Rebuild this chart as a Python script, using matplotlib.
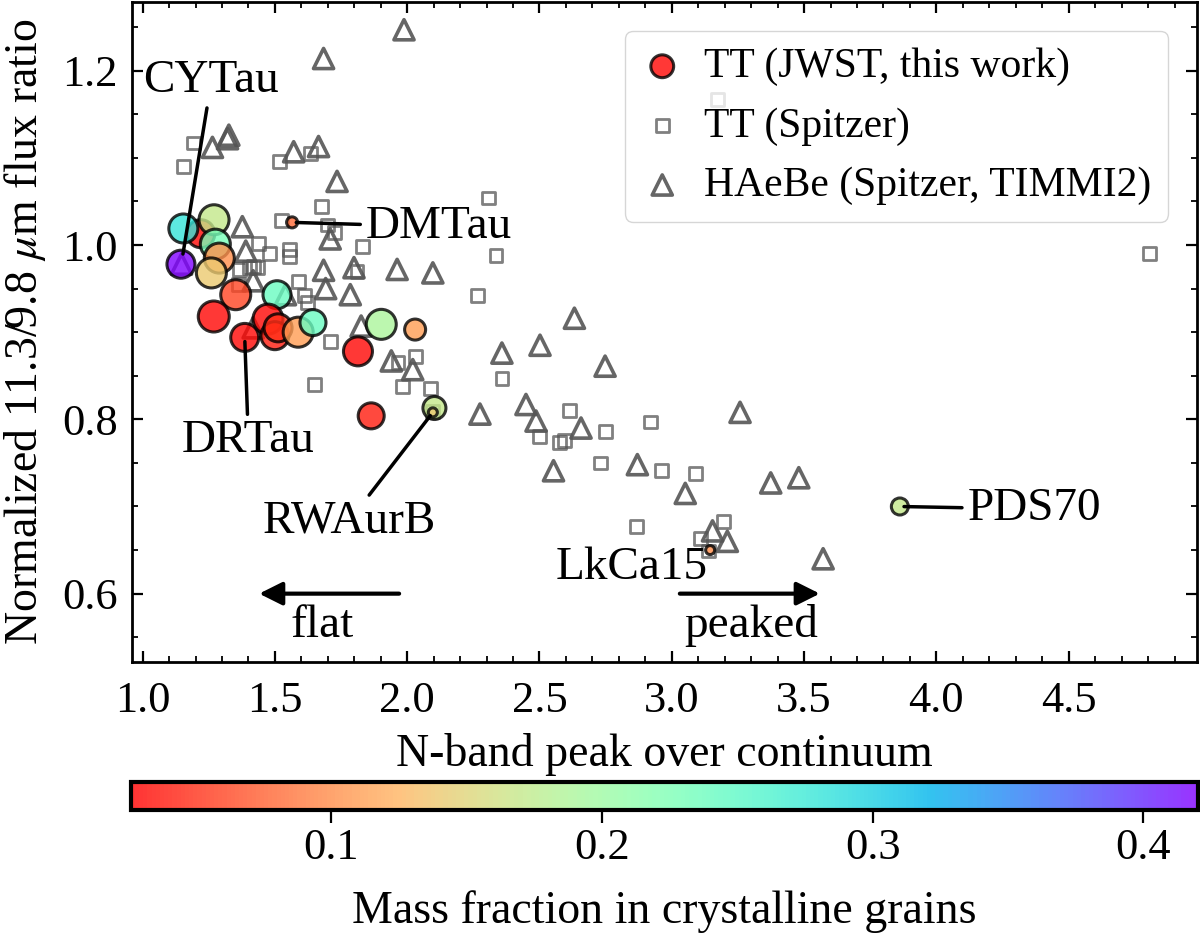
import numpy as np
import matplotlib
matplotlib.use("Agg")
import matplotlib.pyplot as plt
from matplotlib.ticker import MultipleLocator

plt.rcParams['font.family'] = 'serif'
plt.rcParams['font.serif'] = ['Liberation Serif', 'DejaVu Serif']
plt.rcParams['mathtext.fontset'] = 'stix'

# JWST T Tauri sample (this work)
jwst_x = [1.22, 1.154, 1.145, 1.27, 1.275, 1.29, 1.26, 1.352, 1.508, 1.269, 1.386,
          1.474, 1.50, 1.512, 1.588, 1.644, 1.814, 1.902, 2.03, 1.864, 2.103,
          2.097, 1.565, 3.145, 3.862]
jwst_y = [1.013, 1.019, 0.978, 1.029, 1.001, 0.985, 0.968, 0.943, 0.943, 0.918, 0.894,
          0.915, 0.896, 0.905, 0.900, 0.911, 0.878, 0.909, 0.903, 0.804, 0.813,
          0.808, 1.026, 0.650, 0.700]
jwst_frac = [0.03, 0.28, 0.42, 0.17, 0.23, 0.10, 0.14, 0.06, 0.24, 0.03, 0.03,
             0.03, 0.04, 0.05, 0.11, 0.24, 0.03, 0.19, 0.11, 0.04, 0.17,
             0.14, 0.08, 0.10, 0.17]
jwst_diam = [28, 29, 28, 30, 30, 30, 30, 30, 28, 31, 28,
             30, 28, 28, 30, 26, 29, 30, 21, 26, 23,
             9, 11, 9, 17]

# T Tauri (Spitzer)
tt_x = [1.191, 1.154, 1.516, 1.634, 1.675, 1.525, 1.70, 1.726, 1.437, 1.48, 1.556,
        1.556, 1.418, 1.367, 1.405, 1.434, 1.361, 1.588, 1.613, 1.623, 1.830, 2.307,
        2.336, 1.81, 2.267, 1.711, 1.65, 1.965, 2.03, 1.981, 2.087, 2.358, 2.613,
        2.921, 2.50, 2.575, 2.594, 2.751, 2.732, 2.962, 3.091, 2.867, 3.195, 3.109,
        3.14, 2.097, 4.804, 3.172]
tt_y = [1.117, 1.090, 1.096, 1.105, 1.044, 1.028, 1.023, 1.014, 1.002, 0.990, 0.995,
        0.987, 0.975, 0.972, 0.974, 0.974, 0.955, 0.958, 0.942, 0.934, 0.998, 1.054,
        0.988, 0.970, 0.942, 0.889, 0.840, 0.865, 0.872, 0.838, 0.835, 0.847, 0.810,
        0.797, 0.780, 0.773, 0.776, 0.786, 0.750, 0.741, 0.738, 0.677, 0.683, 0.663,
        0.649, 0.809, 0.990, 1.167]

# Herbig Ae/Be (Spitzer, TIMMI2)
hae_x = [1.988, 1.684, 1.571, 1.665, 1.735, 1.709, 1.684, 1.799, 1.962, 2.097, 1.692,
         1.785, 2.632, 1.826, 2.358, 2.502, 2.748, 1.94, 2.021, 2.275, 2.449, 2.487,
         2.657, 2.553, 2.87, 1.264, 1.321, 1.326, 1.377, 1.39, 1.418, 1.147, 1.54,
         1.418, 3.051, 3.258, 3.374, 3.48, 3.154, 3.21, 3.572]
hae_y = [1.247, 1.214, 1.107, 1.113, 1.073, 1.007, 0.971, 0.974, 0.972, 0.968, 0.950,
         0.943, 0.916, 0.907, 0.876, 0.885, 0.861, 0.867, 0.857, 0.806, 0.817, 0.798,
         0.790, 0.741, 0.748, 1.112, 1.122, 1.126, 1.021, 0.993, 0.959, 0.978, 0.943,
         0.905, 0.715, 0.808, 0.727, 0.733, 0.672, 0.660, 0.640]

# labelled sources: name, point, text position, connector line
src_names = ['CYTau', 'DMTau', 'DRTau', 'RWAurB', 'LkCa15', 'PDS70']
src_xy = [(1.15, 0.985), (1.565, 1.026), (1.386, 0.894), (2.097, 0.808), (3.145, 0.650), (3.862, 0.700)]
src_text = [(1.26, 1.188), (2.12, 1.021), (1.40, 0.775), (1.78, 0.683), (2.85, 0.630), (4.37, 0.697)]
src_line = [True, True, True, True, False, True]

fig = plt.figure(figsize=(12, 9.35), dpi=100)
ax = fig.add_axes([0.11, 0.292, 0.8875, 0.706])
cax = fig.add_axes([0.109, 0.1337, 0.889, 0.030])

ax.scatter(tt_x, tt_y, marker='s', s=85, facecolors='none', edgecolors='#555555',
           linewidths=2, alpha=0.75, label='TT (Spitzer)', zorder=2)
ax.scatter(hae_x, hae_y, marker='^', s=210, facecolors='none', edgecolors='#555555',
           linewidths=2.6, alpha=0.9, label='HAeBe (Spitzer, TIMMI2)', zorder=2)
sizes = (np.array(jwst_diam) * 0.72) ** 2
sc = ax.scatter(jwst_x, jwst_y, c=jwst_frac, s=sizes, cmap='rainbow_r',
                vmin=0.026, vmax=0.42, edgecolors='k', linewidths=2.2, alpha=0.8,
                label='TT (JWST, this work)', zorder=3)

for name, xy, xt, line in zip(src_names, src_xy, src_text, src_line):
    props = dict(arrowstyle='-', color='k', lw=2.5, shrinkA=2, shrinkB=3) if line else None
    ax.annotate(name, xy=xy, xytext=xt, fontsize=34, ha='center', va='center',
                arrowprops=props, zorder=4)

ax.annotate('', xy=(1.43, 0.6), xytext=(1.98, 0.6),
            arrowprops=dict(arrowstyle='-|>', color='k', lw=3, mutation_scale=35))
ax.text(1.68, 0.563, 'flat', fontsize=34, ha='center', va='center')
ax.annotate('', xy=(3.57, 0.6), xytext=(3.02, 0.6),
            arrowprops=dict(arrowstyle='-|>', color='k', lw=3, mutation_scale=35))
ax.text(3.30, 0.563, 'peaked', fontsize=34, ha='center', va='center')

ax.set_xlim(0.96, 4.985)
ax.set_ylim(0.5216, 1.279)
ax.xaxis.set_major_locator(MultipleLocator(0.5))
ax.xaxis.set_minor_locator(MultipleLocator(0.1))
ax.yaxis.set_major_locator(MultipleLocator(0.2))
ax.yaxis.set_minor_locator(MultipleLocator(0.05))
ax.tick_params(which='both', direction='in', top=True, right=True, labelsize=32)
ax.tick_params(which='major', length=8, width=1.6)
ax.tick_params(which='minor', length=4, width=1.3)
ax.tick_params(axis='x', pad=13.5)
ax.tick_params(axis='y', pad=10)
for sp in ax.spines.values():
    sp.set_linewidth(2)

ax.set_xlabel('N-band peak over continuum', fontsize=33, labelpad=8.5)
ax.set_ylabel(r'Normalized 11.3/9.8 $\mu$m flux ratio', fontsize=33, labelpad=10)

leg = ax.legend(handles=[sc, ax.collections[0], ax.collections[1]],
                labels=['TT (JWST, this work)', 'TT (Spitzer)', 'HAeBe (Spitzer, TIMMI2)'],
                loc='upper right', fontsize=30, framealpha=0.8, edgecolor='#cccccc',
                scatterpoints=1, borderaxespad=0.7, handlelength=1.0,
                handletextpad=0.5, borderpad=0.4)

cb = fig.colorbar(sc, cax=cax, orientation='horizontal')
cb.set_ticks([0.1, 0.2, 0.3, 0.4])
cb.outline.set_linewidth(3)
cb.ax.tick_params(direction='out', length=9, width=1.6, labelsize=32, pad=4)
cb.set_label('Mass fraction in crystalline grains', fontsize=33, labelpad=16)

fig.savefig('out.png', dpi=100)
